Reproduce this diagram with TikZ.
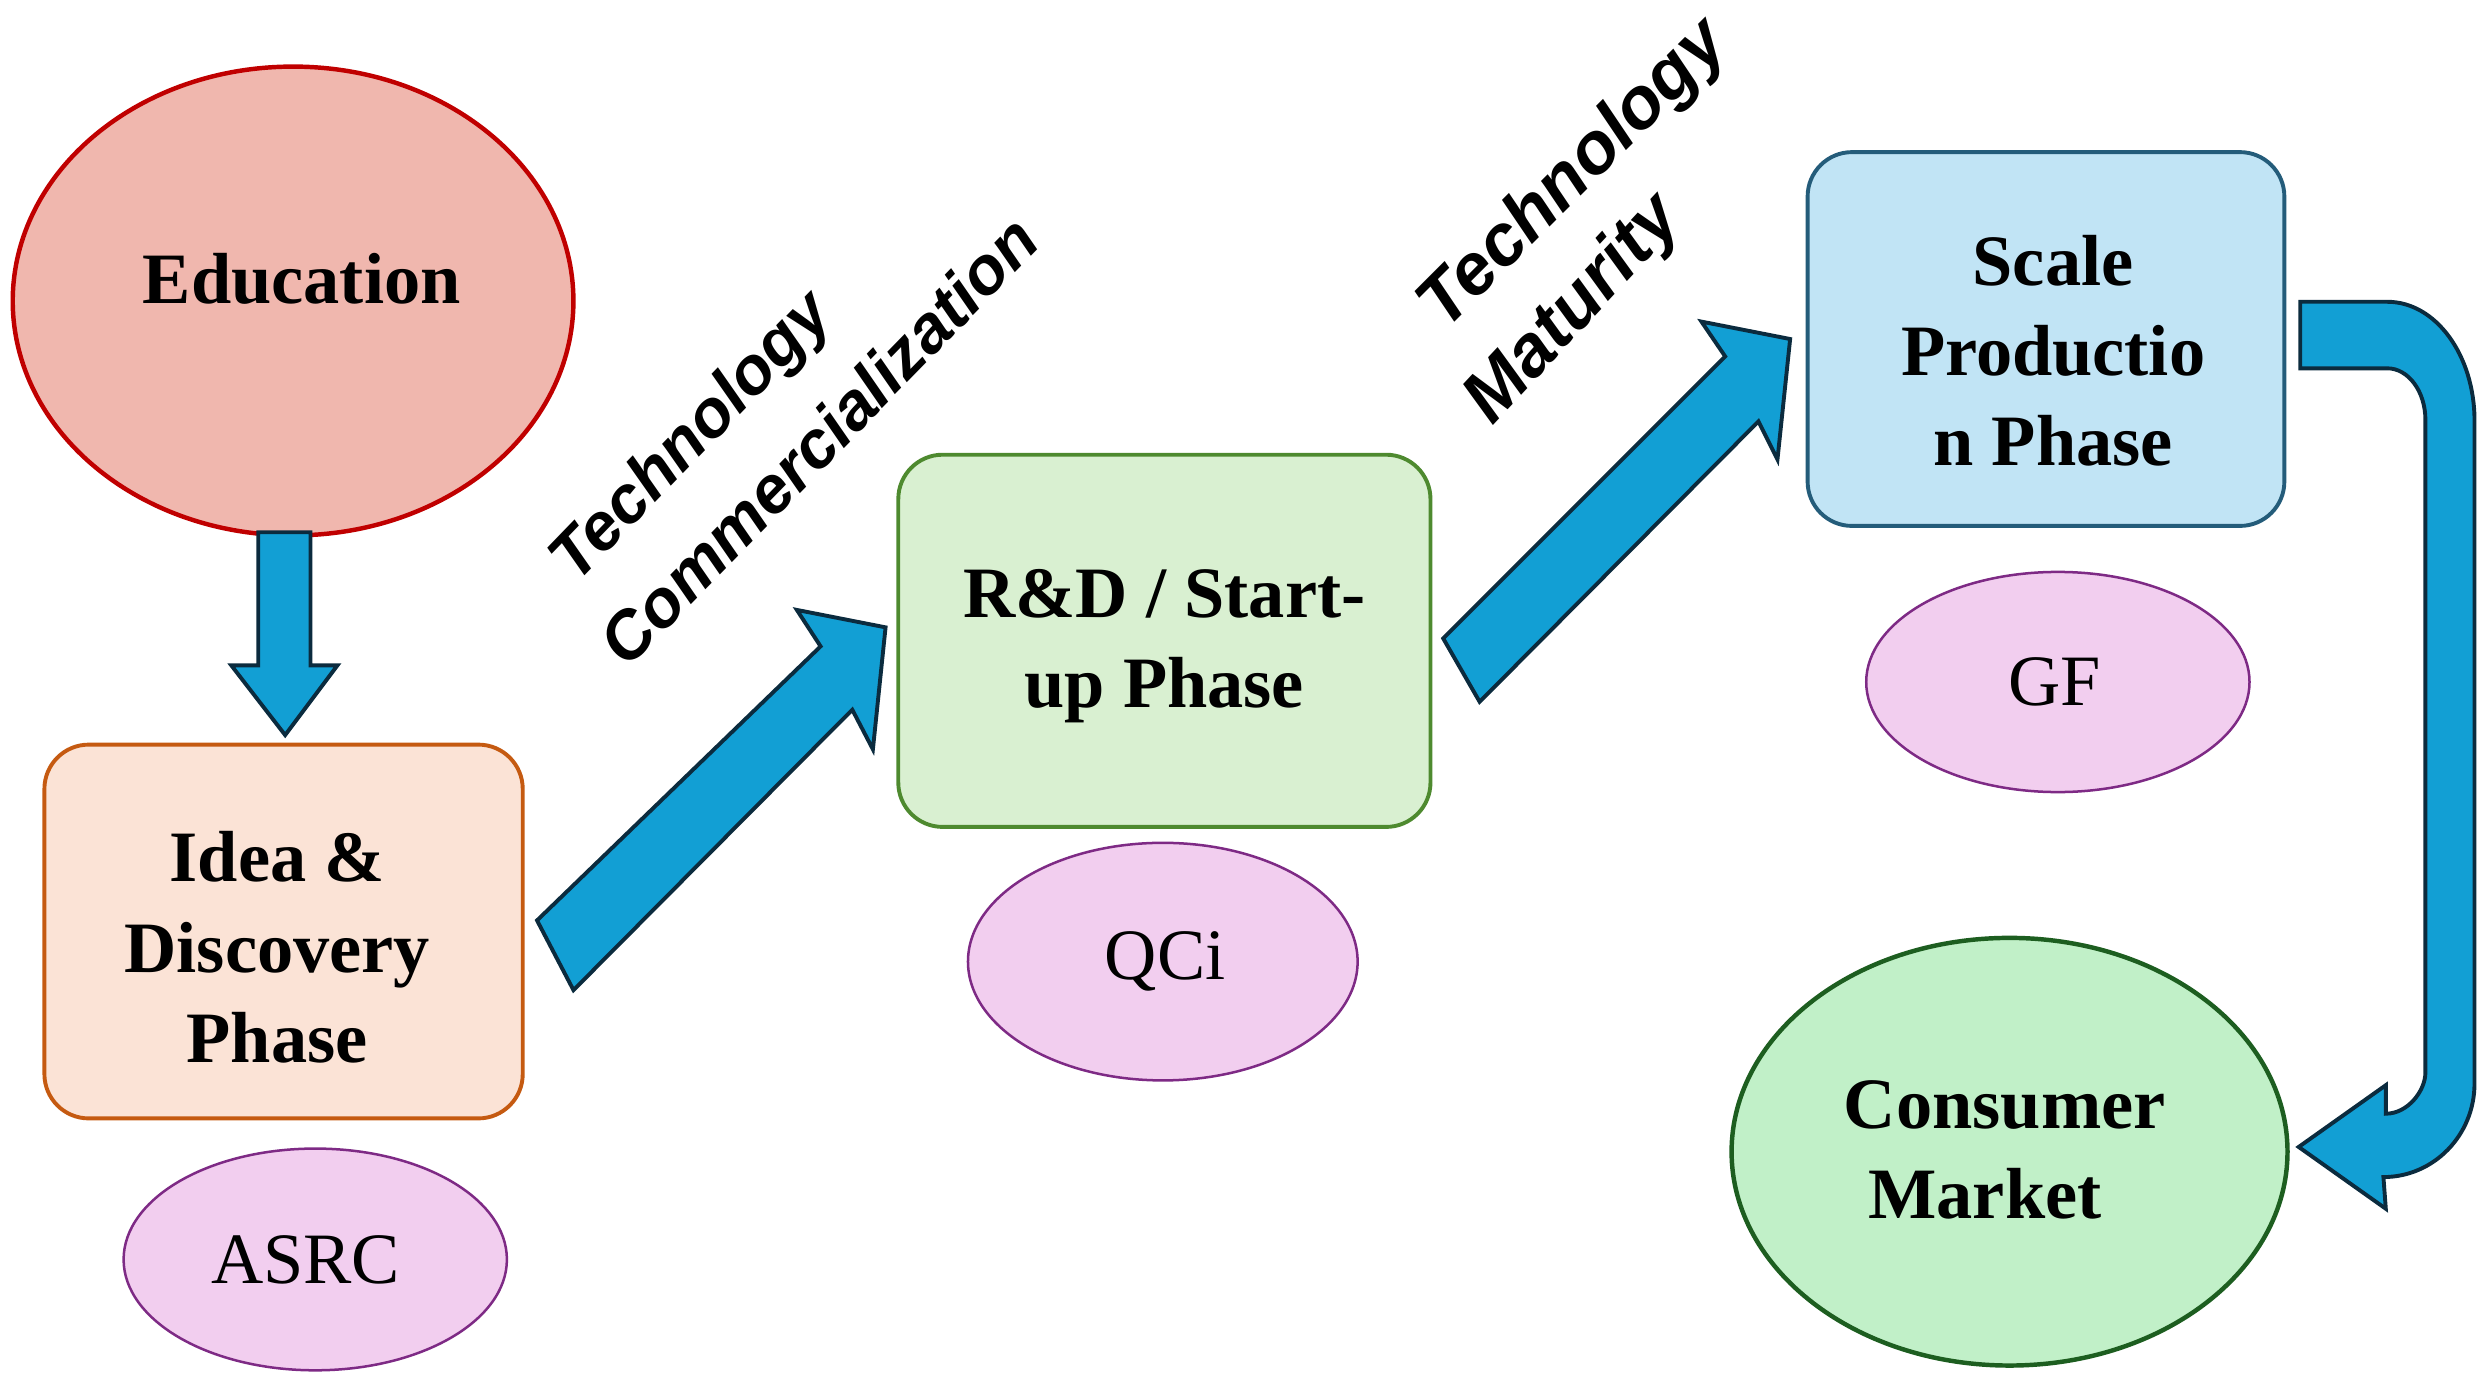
\documentclass[tikz,border=0pt]{standalone}
\usepackage{fontspec}
\setmainfont{Liberation Serif}
\newfontfamily\labelfont{Liberation Sans}
\usetikzlibrary{shapes.geometric}
\definecolor{arrowfill}{HTML}{129FD4}
\definecolor{arrowline}{HTML}{0B2B3E}
\definecolor{eduFill}{HTML}{F0B7AE}
\definecolor{eduLine}{HTML}{C00000}
\definecolor{ideaFill}{HTML}{FBE3D6}
\definecolor{ideaLine}{HTML}{C55A11}
\definecolor{rdFill}{HTML}{D9F0D1}
\definecolor{rdLine}{HTML}{4E8A2F}
\definecolor{scaleFill}{HTML}{C1E4F5}
\definecolor{scaleLine}{HTML}{245C7A}
\definecolor{consFill}{HTML}{C1F0C8}
\definecolor{consLine}{HTML}{1D5E20}
\definecolor{tagFill}{HTML}{F2CEEF}
\definecolor{tagLine}{HTML}{7E2A85}
\begin{document}
\begin{tikzpicture}[x=0.02cm,y=-0.02cm,
  phasebox/.style={draw, line width=1.4pt, rounded corners=0.56cm, inner sep=0pt},
  bigoval/.style={ellipse, draw, line width=1.6pt, inner sep=0pt},
  tagoval/.style={ellipse, draw=tagLine, fill=tagFill, line width=0.9pt, inner sep=0pt},
  maintext/.style={font=\fontsize{26}{32.4}\selectfont\bfseries, align=center, inner sep=0pt},
  tagtext/.style={font=\fontsize{26}{32.4}\selectfont, inner sep=0pt},
  slanttext/.style={font=\labelfont\fontsize{24}{28}\selectfont\bfseries\itshape, inner sep=0pt},
  slanttextbig/.style={font=\labelfont\fontsize{26}{30}\selectfont\bfseries\itshape, inner sep=0pt},
  blockarrow/.style={fill=arrowfill, draw=arrowline, line width=1.4pt, line join=miter}
]
\useasboundingbox (0,0) rectangle (1568,869);

% shapes
\node[bigoval, draw=eduLine, fill=eduFill, minimum width=7.08cm, minimum height=5.92cm] (edu) at (185,190) {};
\node[maintext] (edutext) at (190.5,176) {Education};

\node[phasebox, draw=ideaLine, fill=ideaFill, minimum width=6.04cm, minimum height=4.72cm] (idea) at (179,588) {};
\node[maintext] (ideatext) at (175,598) {Idea \&\\Discovery\\Phase};
\node[tagoval, minimum width=4.84cm, minimum height=2.8cm] (asrc) at (199,795) {};
\node[tagtext] (asrctext) at (193,795) {ASRC};

\node[phasebox, draw=rdLine, fill=rdFill, minimum width=6.72cm, minimum height=4.7cm] (rd) at (735,404.5) {};
\node[maintext] (rdtext) at (735,408) {R\&D / Start-\\up Phase};
\node[tagoval, minimum width=4.92cm, minimum height=3.0cm] (qci) at (734,607) {};
\node[tagtext] (qcitext) at (735.5,607) {QCi};

\node[phasebox, draw=scaleLine, fill=scaleFill, minimum width=6.02cm, minimum height=4.72cm] (scale) at (1291.5,214) {};
\node[maintext] (scaletext) at (1296,221.5) {Scale\\Productio\\n Phase};
\node[tagoval, minimum width=4.84cm, minimum height=2.78cm] (gf) at (1299,430.5) {};
\node[tagtext] (gftext) at (1297,430.5) {GF};

\node[bigoval, draw=consLine, fill=consFill, minimum width=7.02cm, minimum height=5.4cm] (cons) at (1268.5,727) {};
\node[maintext] (constext) at (1265.5,726) {Consumer\\Market\hspace*{0.5cm}};

% slanted labels
\node[slanttext, rotate=46] (tc1) at (437.6,277) {Technology};
\node[slanttext, rotate=45.7] (tc2) at (516.5,278) {Commercialization};
\node[slanttextbig, rotate=45] (tm1) at (994,111) {Technology};
\node[slanttextbig, rotate=47] (tm2) at (994,196) {Maturity};

% block arrows
\draw[blockarrow] (163,336) -- (196,336) -- (196,420) -- (213,420) -- (180,464) -- (146,420) -- (163,420) -- cycle;
\draw[blockarrow] (339,581) -- (518,408) -- (503,385) -- (559,396) -- (551,473) -- (538,448) -- (362,625) -- cycle;
\draw[blockarrow] (911,403) -- (1089,225) -- (1074,203) -- (1130,214) -- (1122,290) -- (1110,266) -- (934,443) -- cycle;
\draw[blockarrow] (1452,190.5) -- (1507,190.5)
  .. controls (1537.4,190.5) and (1562,224.1) .. (1562,265.5)
  -- (1562,684)
  .. controls (1562,716.6) and (1536.2,743) .. (1504.5,743)
  -- (1506,763) -- (1451,724) -- (1506,685) -- (1506,703)
  .. controls (1519.8,703) and (1531,688.6) .. (1531,677)
  -- (1531,265)
  .. controls (1531,247.1) and (1520.2,232.5) .. (1507,232.5)
  -- (1452,232.5) -- cycle;
\end{tikzpicture}
\end{document}
